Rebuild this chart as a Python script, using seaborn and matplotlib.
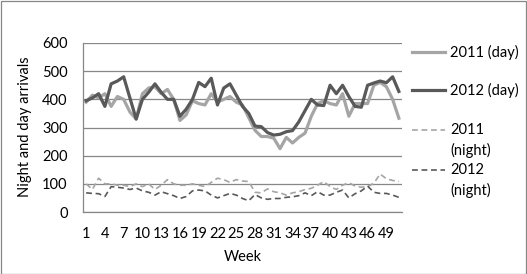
import numpy as np
import pandas as pd
import matplotlib
matplotlib.use("Agg")
import matplotlib.pyplot as plt
import seaborn as sns
from matplotlib.lines import Line2D
from matplotlib.patches import Rectangle

weeks = list(range(1, 52))

day_2011 = [390, 415, 405, 420, 375, 410, 400, 355, 330, 420,
            440, 445, 420, 435, 400, 325, 345, 395, 385, 380,
            420, 390, 400, 410, 390, 380, 335, 290, 268, 268,
            262, 225, 265, 245, 265, 280, 340, 385, 395, 385,
            380, 420, 340, 385, 385, 385, 450, 460, 445, 400,
            333]
day_2012 = [395, 405, 420, 375, 455, 465, 480, 405, 330, 400,
            425, 455, 425, 400, 400, 340, 365, 400, 460, 445,
            475, 380, 440, 455, 415, 375, 350, 305, 303, 282,
            273, 276, 285, 289, 320, 360, 400, 380, 378, 450,
            420, 450, 410, 375, 372, 450, 458, 465, 459, 480,
            428]
night_2011 = [100, 80, 120, 100, 100, 95, 95, 90, 100, 90,
              100, 80, 95, 115, 100, 95, 95, 100, 95, 90,
              105, 120, 115, 105, 115, 110, 108, 70, 68, 82,
              72, 68, 60, 68, 72, 80, 84, 95, 108, 90,
              80, 95, 104, 92, 88, 90, 102, 135, 118, 112,
              108]
night_2012 = [68, 66, 65, 55, 90, 88, 85, 80, 85, 75,
              70, 60, 72, 65, 58, 48, 55, 75, 78, 75,
              60, 50, 58, 66, 60, 48, 40, 62, 50, 45,
              48, 48, 52, 54, 58, 68, 58, 72, 60, 60,
              70, 78, 50, 65, 75, 92, 70, 66, 66, 60,
              52]

series_names = ["2011 (day)", "2012 (day)", "2011\n(night)", "2012\n(night)"]
series_values = [day_2011, day_2012, night_2011, night_2012]
y_ticks = [0, 100, 200, 300, 400, 500, 600]
x_ticks = list(range(1, 52, 3))

W, H = 527, 274
fig = plt.figure(figsize=(W / 100, H / 100), dpi=100)
plt.rcParams['font.family'] = ['Lato', 'DejaVu Sans']

def fx(px):
    return px / W

def fy(py):
    return 1 - py / H

ax = fig.add_axes([fx(83), fy(212), fx(402) - fx(83), fy(43) - fy(212)])

light = "#A5A5A5"
dark = "#595959"
styles = [
    dict(color=light, lw=2.3, ls="-"),
    dict(color=dark, lw=2.3, ls="-"),
    dict(color=light, lw=1.2, ls=(0, (3.5, 2.2))),
    dict(color=dark, lw=1.2, ls=(0, (3.5, 2.2))),
]

for name, vals, st in zip(series_names, series_values, styles):
    df = pd.DataFrame({"week": weeks, "value": vals})
    sns.lineplot(data=df, x="week", y="value", ax=ax, color=st["color"],
                 linewidth=st["lw"], linestyle=st["ls"], zorder=3)

ax.set_xlim(0.5, 51.5)
ax.set_ylim(0, 600)
ax.set_yticks(y_ticks)
ax.set_xticks(x_ticks)
ax.set_xticklabels([str(t) for t in x_ticks])
ax.tick_params(axis="both", length=0, labelsize=10.5, colors="black")
ax.tick_params(axis="y", pad=11)
ax.tick_params(axis="x", pad=11)
ax.grid(axis="y", color="#878787", linewidth=0.9)
ax.set_axisbelow(True)
for s in ["top", "right"]:
    ax.spines[s].set_visible(False)
for s in ["left", "bottom"]:
    ax.spines[s].set_color("#878787")
    ax.spines[s].set_linewidth(0.9)
ax.set_xlabel("")
ax.set_ylabel("")

fig.text(fx(243), fy(257), "Week", ha="center", va="center", fontsize=10.5)
fig.text(fx(25), fy(127), "Night and day arrivals", ha="center", va="center",
         rotation=90, fontsize=10.5)

# Legend (manual placement)
leg_y = [52, 90, 130, 170]
for name, st, py in zip(series_names, styles, leg_y):
    fig.add_artist(Line2D([fx(412), fx(445)], [fy(py), fy(py)], color=st["color"],
                          lw=st["lw"], ls=st["ls"]))
    lines = name.split("\n")
    for i, line in enumerate(lines):
        fig.text(fx(450), fy(py + i * 20), line, ha="left", va="center", fontsize=10.5)

fig.add_artist(Rectangle((0.5 / W, 0.5 / H), 1 - 1.5 / W, 1 - 1.5 / H, transform=fig.transFigure,
                         fill=False, edgecolor="#878787", lw=0.9))

fig.savefig("out.png", dpi=100)
